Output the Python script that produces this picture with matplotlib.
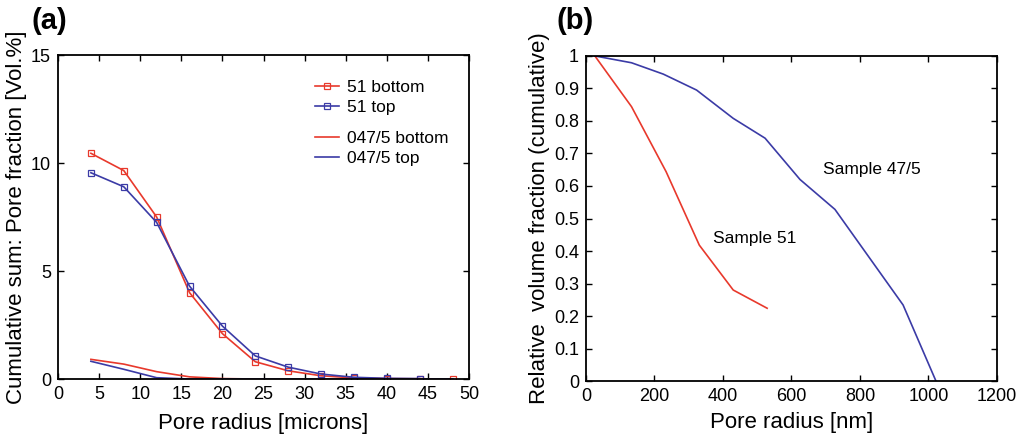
import matplotlib
matplotlib.use("Agg")
import matplotlib.pyplot as plt
from matplotlib.lines import Line2D

plt.rcParams['font.family'] = ['Liberation Sans', 'DejaVu Sans']

RED = '#e8392c'
BLUE = '#3b3ba6'

# Panel (a) data
radius_um = [4, 8, 12, 16, 20, 24, 28, 32, 36, 40, 44, 48]
s51_bottom = [10.45, 9.65, 7.5, 4.0, 2.1, 0.8, 0.38, 0.15, 0.05, 0.02, 0.01, 0.0]
radius_um_top = [4, 8, 12, 16, 20, 24, 28, 32, 36, 40, 44]
s51_top = [9.55, 8.9, 7.25, 4.3, 2.45, 1.07, 0.55, 0.23, 0.08, 0.03, 0.02]
s475_bottom = [0.91, 0.69, 0.34, 0.1, 0.02, 0.0, 0.0, 0.0, 0.0, 0.0, 0.0, 0.0]
s475_top = [0.82, 0.45, 0.06, 0.0, 0.0, 0.0, 0.0, 0.0, 0.0, 0.0, 0.0, 0.0]

# Panel (b) data
radius_nm_51 = [26, 133, 234, 331, 430, 529]
rel_51 = [1.0, 0.844, 0.644, 0.418, 0.28, 0.224]
radius_nm_475 = [26, 133, 226, 323, 430, 523, 625, 727, 926, 1022]
rel_475 = [1.0, 0.979, 0.944, 0.895, 0.808, 0.747, 0.62, 0.528, 0.234, 0.0]

fig = plt.figure(figsize=(10.18, 4.37), dpi=100)
axa = fig.add_axes([0.057, 0.1327, 0.4037, 0.7414])
axb = fig.add_axes([0.5756, 0.128, 0.4037, 0.744])

lw = 1.2
axa.plot(radius_um, s51_bottom, color=RED, lw=lw, marker='s', ms=5, mfc='none', mew=0.9)
axa.plot(radius_um_top, s51_top, color=BLUE, lw=lw, marker='s', ms=5, mfc='none', mew=0.9)
axa.plot(radius_um, s475_bottom, color=RED, lw=lw)
axa.plot(radius_um, s475_top, color=BLUE, lw=lw)

axa.set_xlim(0, 50)
axa.set_ylim(0, 15)
axa.set_xticks(range(0, 51, 5))
axa.set_yticks([0, 5, 10, 15])
axa.set_xlabel('Pore radius [microns]', fontsize=16, labelpad=7)
axa.set_ylabel('Cumulative sum: Pore fraction [Vol.%]', fontsize=16, labelpad=3)

legkw = dict(loc='upper left', frameon=False, fontsize=12.5, handlelength=1.4,
             handletextpad=0.45, labelspacing=0.28, borderaxespad=0, borderpad=0)
h1 = [Line2D([], [], color=RED, lw=lw, marker='s', ms=4.5, mfc='none', mew=0.9),
      Line2D([], [], color=BLUE, lw=lw, marker='s', ms=4.5, mfc='none', mew=0.9)]
h2 = [Line2D([], [], color=RED, lw=lw), Line2D([], [], color=BLUE, lw=lw)]
leg1 = axa.legend(h1, ['51 bottom', '51 top'], bbox_to_anchor=(0.625, 0.922), **legkw)
axa.add_artist(leg1)
axa.legend(h2, ['047/5 bottom', '047/5 top'], bbox_to_anchor=(0.625, 0.765), **legkw)

axb.plot(radius_nm_51, rel_51, color=RED, lw=lw)
axb.plot(radius_nm_475, rel_475, color=BLUE, lw=lw)
axb.set_xlim(0, 1200)
axb.set_ylim(0, 1)
axb.set_xticks(range(0, 1201, 200))
axb.set_yticks([i / 10 for i in range(11)])
axb.set_yticklabels(['0'] + ['0.%d' % i for i in range(1, 10)] + ['1'])
axb.set_xlabel('Pore radius [nm]', fontsize=16, labelpad=5)
axb.set_ylabel('Relative  volume fraction (cumulative)', fontsize=16, labelpad=3)
axb.text(692, 0.65, 'Sample 47/5', fontsize=12.5, va='center', ha='left')
axb.text(371, 0.437, 'Sample 51', fontsize=12.5, va='center', ha='left')

for ax in (axa, axb):
    ax.tick_params(direction='in', top=True, right=True, length=4.5, width=1,
                   labelsize=13, pad=5)
    for s in ax.spines.values():
        s.set_linewidth(1.3)

fig.text(0.031, 0.952, '(a)', fontsize=21, fontweight='bold', ha='left', va='center')
fig.text(0.547, 0.952, '(b)', fontsize=21, fontweight='bold', ha='left', va='center')

fig.savefig('out.png', dpi=100)
